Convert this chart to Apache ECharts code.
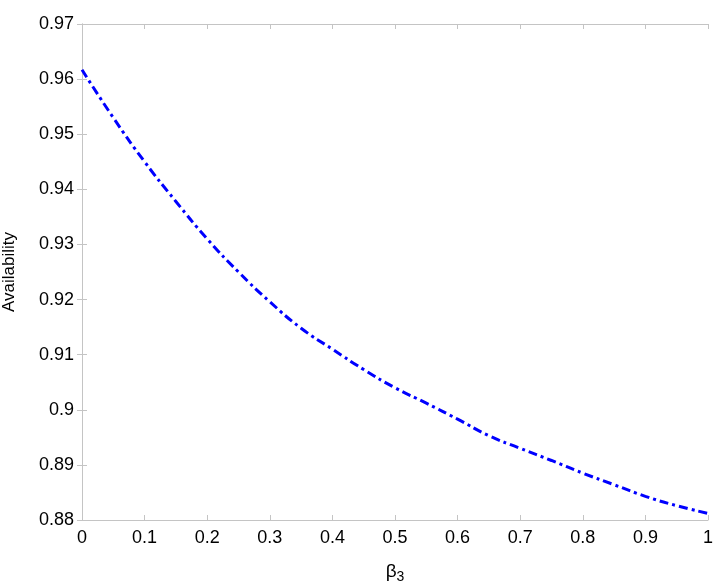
<!DOCTYPE html>
<html><head><meta charset="utf-8">
<script src="https://cdn.jsdelivr.net/npm/echarts@6/dist/echarts.min.js"></script>
<style>html,body{margin:0;padding:0;background:#fff}#c{width:720px;height:588px}</style>
</head><body><div id="c"></div>
<script>
var beta = [0,0.05,0.1,0.15,0.2,0.25,0.3,0.35,0.4,0.45,0.5,0.55,0.6,0.65,0.7,0.75,0.8,0.85,0.9,0.95,1.0];
var availability = [0.9617,0.9530,0.9450,0.9378,0.9310,0.9250,0.9196,0.9148,0.9110,0.9073,0.9040,0.9012,0.8983,0.8953,0.8930,0.8908,0.8885,0.8864,0.8843,0.8826,0.8812];
var yTicks = [0.88,0.89,0.9,0.91,0.92,0.93,0.94,0.95,0.96,0.97];
var xTicks = [0,0.1,0.2,0.3,0.4,0.5,0.6,0.7,0.8,0.9,1];

var font = 'Liberation Sans, Arial, sans-serif';
var axisCol = '#c4c4c4';
function fmt(v){ return String(Math.round(v*100)/100); }
var chart = echarts.init(document.getElementById('c'), null, {renderer:'canvas'});
var data = beta.map(function(b,i){return [b, availability[i]];});
var baseX = {type:'value', min:0, max:1, interval:0.1,
  axisLine:{show:true,lineStyle:{color:axisCol,width:1}},
  axisTick:{show:true,inside:true,length:5,lineStyle:{color:axisCol}},
  splitLine:{show:false}};
var baseY = {type:'value', min:0.88, max:0.97, interval:0.01,
  axisLine:{show:true,lineStyle:{color:axisCol,width:1}},
  axisTick:{show:true,inside:true,length:5,lineStyle:{color:axisCol}},
  splitLine:{show:false}};
chart.setOption({
  animation:false,
  backgroundColor:'#fff',
  grid:{left:82,right:12,top:24,bottom:68,containLabel:false,outerBoundsMode:'none'},
  xAxis:[
    Object.assign({}, baseX, {position:'bottom',
      axisLabel:{show:true,color:'#000',fontSize:18,fontFamily:font,margin:9,formatter:fmt},
      name:'{b|β}{s|3}', nameLocation:'middle', nameGap:40,
      nameTextStyle:{rich:{b:{fontSize:19,fontFamily:font,color:'#000'},s:{fontSize:14,fontFamily:font,color:'#000',verticalAlign:'bottom',padding:[10,0,0,0]}}}}),
    Object.assign({}, baseX, {position:'top', axisLabel:{show:false}})
  ],
  yAxis:[
    Object.assign({}, baseY, {position:'left',
      axisLabel:{show:true,color:'#000',fontSize:18,fontFamily:font,margin:8,formatter:fmt},
      name:'Availability', nameLocation:'middle', nameGap:64,
      nameTextStyle:{fontSize:17,fontFamily:font,color:'#000'}}),
    Object.assign({}, baseY, {position:'right', axisLabel:{show:false}})
  ],
  series:[{
    type:'line', data:data, smooth:true, showSymbol:false, symbol:'none',
    lineStyle:{color:'#0000ff', width:3, type:[9,4,3,4]}
  }]
});
</script>
</body></html>
